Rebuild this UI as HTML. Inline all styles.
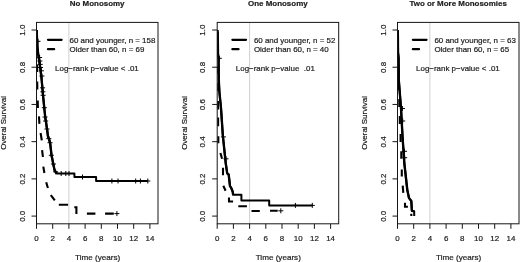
<!DOCTYPE html><html><head><meta charset="utf-8"><style>html,body{margin:0;padding:0;background:#fff}svg{display:block;will-change:transform}text{font-family:"Liberation Sans",sans-serif;fill:#1c1c1c;stroke:#1c1c1c;stroke-width:0.2px}</style></head><body>
<svg width="520" height="262" viewBox="0 0 520 262">
<rect width="520" height="262" fill="#fff"/>
<defs><filter id="bl" x="0" y="0" width="100%" height="100%" filterUnits="userSpaceOnUse" color-interpolation-filters="sRGB"><feGaussianBlur stdDeviation="0.32"/></filter></defs><g filter="url(#bl)">
<line x1="68.90" y1="22.40" x2="68.90" y2="223.80" stroke="#d0d0d0" stroke-width="1"/>
<clipPath id="c0"><rect x="36.50" y="22.40" width="121.50" height="201.40"/></clipPath><g clip-path="url(#c0)">
<polyline points="36.70,30.00 37.10,41.30 37.70,50.00 38.20,54.00 40.20,67.30 41.60,79.00 42.80,93.00 44.20,107.00 45.20,117.00 46.00,122.00 47.30,131.00 47.90,136.00 49.30,140.00 50.20,143.50 51.50,155.00 53.10,163.00 54.50,170.00 56.00,172.60 57.00,173.50 74.40,173.50 74.40,177.00 96.10,177.00 96.10,181.00 147.60,181.00" fill="none" stroke="#000" stroke-width="2.00" stroke-linejoin="round"/>
<polyline points="36.70,30.00 37.10,41.30 37.70,50.00 38.20,54.00 40.20,67.30 41.60,79.00 42.80,93.00 44.20,107.00 45.20,117.00 46.00,122.00 47.30,131.00 47.90,136.00 49.30,140.00 50.20,143.50 51.50,155.00 53.10,163.00 54.50,170.00 56.00,172.60 57.00,173.50" fill="none" stroke="#000" stroke-width="2.35" stroke-linejoin="round"/>
<polyline points="36.90,30.50 37.00,38.00" fill="none" stroke="#000" stroke-width="2.10" stroke-linejoin="miter"/>
<polyline points="37.00,47.50 37.10,55.00" fill="none" stroke="#000" stroke-width="2.10" stroke-linejoin="miter"/>
<polyline points="37.10,64.50 37.20,72.00" fill="none" stroke="#000" stroke-width="2.10" stroke-linejoin="miter"/>
<polyline points="37.20,81.50 37.30,89.50" fill="none" stroke="#000" stroke-width="2.10" stroke-linejoin="miter"/>
<polyline points="37.70,100.50 37.90,108.00" fill="none" stroke="#000" stroke-width="2.10" stroke-linejoin="miter"/>
<polyline points="39.00,116.40 39.40,123.90" fill="none" stroke="#000" stroke-width="2.10" stroke-linejoin="miter"/>
<polyline points="40.60,133.00 41.80,140.30" fill="none" stroke="#000" stroke-width="2.10" stroke-linejoin="miter"/>
<polyline points="42.10,150.20 42.90,157.00" fill="none" stroke="#000" stroke-width="2.10" stroke-linejoin="miter"/>
<polyline points="43.30,166.60 44.40,173.00" fill="none" stroke="#000" stroke-width="2.10" stroke-linejoin="miter"/>
<polyline points="46.20,182.20 47.90,188.00" fill="none" stroke="#000" stroke-width="2.10" stroke-linejoin="miter"/>
<polyline points="50.80,195.20 54.80,200.40" fill="none" stroke="#000" stroke-width="2.10" stroke-linejoin="miter"/>
<polyline points="58.80,204.80 68.10,204.80" fill="none" stroke="#000" stroke-width="2.10" stroke-linejoin="miter"/>
<polyline points="74.30,207.30 76.40,207.30 76.40,214.00" fill="none" stroke="#000" stroke-width="2.10" stroke-linejoin="miter"/>
<polyline points="86.90,213.60 95.40,213.60" fill="none" stroke="#000" stroke-width="2.10" stroke-linejoin="miter"/>
<polyline points="105.10,213.60 113.80,213.60" fill="none" stroke="#000" stroke-width="2.10" stroke-linejoin="miter"/>
<path d="M35.50 41.30H40.50M38.00 38.80V43.80" stroke="#000" stroke-width="1.0" fill="none"/>
<path d="M37.10 57.50H42.10M39.60 55.00V60.00" stroke="#000" stroke-width="1.0" fill="none"/>
<path d="M37.40 61.00H42.40M39.90 58.50V63.50" stroke="#000" stroke-width="1.0" fill="none"/>
<path d="M37.70 64.40H42.70M40.20 61.90V66.90" stroke="#000" stroke-width="1.0" fill="none"/>
<path d="M38.00 67.50H43.00M40.50 65.00V70.00" stroke="#000" stroke-width="1.0" fill="none"/>
<path d="M38.90 70.80H43.90M41.40 68.30V73.30" stroke="#000" stroke-width="1.0" fill="none"/>
<path d="M39.40 76.00H44.40M41.90 73.50V78.50" stroke="#000" stroke-width="1.0" fill="none"/>
<path d="M40.10 87.80H45.10M42.60 85.30V90.30" stroke="#000" stroke-width="1.0" fill="none"/>
<path d="M40.40 91.80H45.40M42.90 89.30V94.30" stroke="#000" stroke-width="1.0" fill="none"/>
<path d="M40.60 95.30H45.60M43.10 92.80V97.80" stroke="#000" stroke-width="1.0" fill="none"/>
<path d="M41.80 107.70H46.80M44.30 105.20V110.20" stroke="#000" stroke-width="1.0" fill="none"/>
<path d="M42.50 117.00H47.50M45.00 114.50V119.50" stroke="#000" stroke-width="1.0" fill="none"/>
<path d="M43.20 121.00H48.20M45.70 118.50V123.50" stroke="#000" stroke-width="1.0" fill="none"/>
<path d="M44.50 129.00H49.50M47.00 126.50V131.50" stroke="#000" stroke-width="1.0" fill="none"/>
<path d="M46.30 138.60H51.30M48.80 136.10V141.10" stroke="#000" stroke-width="1.0" fill="none"/>
<path d="M47.50 142.70H52.50M50.00 140.20V145.20" stroke="#000" stroke-width="1.0" fill="none"/>
<path d="M48.80 155.30H53.80M51.30 152.80V157.80" stroke="#000" stroke-width="1.0" fill="none"/>
<path d="M50.90 164.00H55.90M53.40 161.50V166.50" stroke="#000" stroke-width="1.0" fill="none"/>
<path d="M53.10 171.80H58.10M55.60 169.30V174.30" stroke="#000" stroke-width="1.0" fill="none"/>
<path d="M58.70 173.50H63.70M61.20 171.00V176.00" stroke="#000" stroke-width="1.0" fill="none"/>
<path d="M63.30 173.50H68.30M65.80 171.00V176.00" stroke="#000" stroke-width="1.0" fill="none"/>
<path d="M66.50 173.50H71.50M69.00 171.00V176.00" stroke="#000" stroke-width="1.0" fill="none"/>
<path d="M80.00 177.00H85.00M82.50 174.50V179.50" stroke="#000" stroke-width="1.0" fill="none"/>
<path d="M109.40 181.00H114.40M111.90 178.50V183.50" stroke="#000" stroke-width="1.0" fill="none"/>
<path d="M115.50 181.00H120.50M118.00 178.50V183.50" stroke="#000" stroke-width="1.0" fill="none"/>
<path d="M133.20 181.00H138.20M135.70 178.50V183.50" stroke="#000" stroke-width="1.0" fill="none"/>
<path d="M137.90 181.00H142.90M140.40 178.50V183.50" stroke="#000" stroke-width="1.0" fill="none"/>
<path d="M145.30 181.00H150.30M147.80 178.50V183.50" stroke="#000" stroke-width="1.0" fill="none"/>
<path d="M114.40 213.60H119.40M116.90 211.10V216.10" stroke="#000" stroke-width="1.0" fill="none"/>
</g>
<rect x="36.50" y="22.40" width="121.50" height="201.40" fill="none" stroke="#161616" stroke-width="1"/>
<line x1="31.50" y1="216.10" x2="36.50" y2="216.10" stroke="#161616" stroke-width="1"/>
<text transform="translate(24.60 216.30) rotate(-90)" text-anchor="middle" font-size="7.95">0.0</text>
<line x1="31.50" y1="178.88" x2="36.50" y2="178.88" stroke="#161616" stroke-width="1"/>
<text transform="translate(24.60 179.08) rotate(-90)" text-anchor="middle" font-size="7.95">0.2</text>
<line x1="31.50" y1="141.66" x2="36.50" y2="141.66" stroke="#161616" stroke-width="1"/>
<text transform="translate(24.60 141.86) rotate(-90)" text-anchor="middle" font-size="7.95">0.4</text>
<line x1="31.50" y1="104.44" x2="36.50" y2="104.44" stroke="#161616" stroke-width="1"/>
<text transform="translate(24.60 104.64) rotate(-90)" text-anchor="middle" font-size="7.95">0.6</text>
<line x1="31.50" y1="67.22" x2="36.50" y2="67.22" stroke="#161616" stroke-width="1"/>
<text transform="translate(24.60 67.42) rotate(-90)" text-anchor="middle" font-size="7.95">0.8</text>
<line x1="31.50" y1="30.00" x2="36.50" y2="30.00" stroke="#161616" stroke-width="1"/>
<text transform="translate(24.60 30.20) rotate(-90)" text-anchor="middle" font-size="7.95">1.0</text>
<line x1="36.50" y1="223.80" x2="36.50" y2="228.80" stroke="#161616" stroke-width="1"/>
<text x="36.50" y="240.80" text-anchor="middle" font-size="7.95">0</text>
<line x1="52.70" y1="223.80" x2="52.70" y2="228.80" stroke="#161616" stroke-width="1"/>
<text x="52.70" y="240.80" text-anchor="middle" font-size="7.95">2</text>
<line x1="68.90" y1="223.80" x2="68.90" y2="228.80" stroke="#161616" stroke-width="1"/>
<text x="68.90" y="240.80" text-anchor="middle" font-size="7.95">4</text>
<line x1="85.10" y1="223.80" x2="85.10" y2="228.80" stroke="#161616" stroke-width="1"/>
<text x="85.10" y="240.80" text-anchor="middle" font-size="7.95">6</text>
<line x1="101.30" y1="223.80" x2="101.30" y2="228.80" stroke="#161616" stroke-width="1"/>
<text x="101.30" y="240.80" text-anchor="middle" font-size="7.95">8</text>
<line x1="117.50" y1="223.80" x2="117.50" y2="228.80" stroke="#161616" stroke-width="1"/>
<text x="117.50" y="240.80" text-anchor="middle" font-size="7.95">10</text>
<line x1="133.70" y1="223.80" x2="133.70" y2="228.80" stroke="#161616" stroke-width="1"/>
<text x="133.70" y="240.80" text-anchor="middle" font-size="7.95">12</text>
<line x1="149.90" y1="223.80" x2="149.90" y2="228.80" stroke="#161616" stroke-width="1"/>
<text x="149.90" y="240.80" text-anchor="middle" font-size="7.95">14</text>
<text x="120.15" y="259.80" text-anchor="end" font-size="8.10">Time (years)</text>
<text transform="translate(5.50 122.90) rotate(-90)" text-anchor="middle" font-size="7.95">Overal Survival</text>
<text x="97.15" y="6.20" text-anchor="middle" font-size="7.95" font-weight="bold">No Monosomy</text>
<line x1="48.00" y1="39.80" x2="61.60" y2="39.80" stroke="#000" stroke-width="2.3" stroke-linecap="round"/>
<line x1="48.00" y1="49.20" x2="54.10" y2="49.20" stroke="#000" stroke-width="2.3" stroke-linecap="round"/>
<text x="69.50" y="42.50" font-size="7.95">60 and younger, n = 158</text>
<text x="69.50" y="52.40" font-size="7.95">Older than 60, n = 69</text>
<text x="55.10" y="70.50" font-size="7.95">Log−rank p−value < .01</text>
<line x1="249.60" y1="22.40" x2="249.60" y2="223.80" stroke="#d0d0d0" stroke-width="1"/>
<clipPath id="c1"><rect x="217.20" y="22.40" width="121.50" height="201.40"/></clipPath><g clip-path="url(#c1)">
<polyline points="217.40,30.00 217.80,36.00 218.00,54.00 218.60,58.30 218.80,80.00 219.40,92.00 221.00,108.00 222.80,135.00 225.70,163.00 227.20,173.30 228.70,174.60 230.00,186.00 231.50,188.50 232.80,192.00 233.10,194.80 241.40,194.80 241.40,200.40 269.20,200.40 269.20,205.40 312.30,205.40" fill="none" stroke="#000" stroke-width="2.00" stroke-linejoin="round"/>
<polyline points="217.40,30.00 217.80,36.00 218.00,54.00 218.60,58.30 218.80,80.00 219.40,92.00 221.00,108.00 222.80,135.00 225.70,163.00 227.20,173.30 228.70,174.60 230.00,186.00 231.50,188.50 232.80,192.00 233.10,194.80" fill="none" stroke="#000" stroke-width="2.35" stroke-linejoin="round"/>
<polyline points="217.60,32.00 217.60,40.00" fill="none" stroke="#000" stroke-width="2.10" stroke-linejoin="miter"/>
<polyline points="217.70,49.00 217.70,57.00" fill="none" stroke="#000" stroke-width="2.10" stroke-linejoin="miter"/>
<polyline points="217.90,66.00 217.90,74.00" fill="none" stroke="#000" stroke-width="2.10" stroke-linejoin="miter"/>
<polyline points="218.00,83.00 218.00,91.00" fill="none" stroke="#000" stroke-width="2.10" stroke-linejoin="miter"/>
<polyline points="218.00,101.00 218.10,109.50" fill="none" stroke="#000" stroke-width="2.10" stroke-linejoin="miter"/>
<polyline points="218.10,117.50 218.10,126.20" fill="none" stroke="#000" stroke-width="2.10" stroke-linejoin="miter"/>
<polyline points="218.30,136.30 218.30,143.20" fill="none" stroke="#000" stroke-width="2.10" stroke-linejoin="miter"/>
<polyline points="220.40,153.00 222.10,158.80" fill="none" stroke="#000" stroke-width="2.10" stroke-linejoin="miter"/>
<polyline points="223.00,167.80 223.00,175.30" fill="none" stroke="#000" stroke-width="2.10" stroke-linejoin="miter"/>
<polyline points="223.30,185.70 225.60,190.80" fill="none" stroke="#000" stroke-width="2.10" stroke-linejoin="miter"/>
<polyline points="229.00,197.50 229.00,201.50 233.10,201.50" fill="none" stroke="#000" stroke-width="2.10" stroke-linejoin="miter"/>
<polyline points="238.30,206.20 246.90,206.20" fill="none" stroke="#000" stroke-width="2.10" stroke-linejoin="miter"/>
<polyline points="251.50,211.00 259.80,211.00" fill="none" stroke="#000" stroke-width="2.10" stroke-linejoin="miter"/>
<polyline points="270.00,210.80 277.70,210.80" fill="none" stroke="#000" stroke-width="2.10" stroke-linejoin="miter"/>
<path d="M216.80 58.30H221.80M219.30 55.80V60.80" stroke="#000" stroke-width="1.0" fill="none"/>
<path d="M220.90 136.90H225.90M223.40 134.40V139.40" stroke="#000" stroke-width="1.0" fill="none"/>
<path d="M223.50 158.80H228.50M226.00 156.30V161.30" stroke="#000" stroke-width="1.0" fill="none"/>
<path d="M292.90 205.40H297.90M295.40 202.90V207.90" stroke="#000" stroke-width="1.0" fill="none"/>
<path d="M309.80 205.40H314.80M312.30 202.90V207.90" stroke="#000" stroke-width="1.0" fill="none"/>
<path d="M278.30 210.80H283.30M280.80 208.30V213.30" stroke="#000" stroke-width="1.0" fill="none"/>
</g>
<rect x="217.20" y="22.40" width="121.50" height="201.40" fill="none" stroke="#161616" stroke-width="1"/>
<line x1="212.20" y1="216.10" x2="217.20" y2="216.10" stroke="#161616" stroke-width="1"/>
<text transform="translate(205.30 216.30) rotate(-90)" text-anchor="middle" font-size="7.95">0.0</text>
<line x1="212.20" y1="178.88" x2="217.20" y2="178.88" stroke="#161616" stroke-width="1"/>
<text transform="translate(205.30 179.08) rotate(-90)" text-anchor="middle" font-size="7.95">0.2</text>
<line x1="212.20" y1="141.66" x2="217.20" y2="141.66" stroke="#161616" stroke-width="1"/>
<text transform="translate(205.30 141.86) rotate(-90)" text-anchor="middle" font-size="7.95">0.4</text>
<line x1="212.20" y1="104.44" x2="217.20" y2="104.44" stroke="#161616" stroke-width="1"/>
<text transform="translate(205.30 104.64) rotate(-90)" text-anchor="middle" font-size="7.95">0.6</text>
<line x1="212.20" y1="67.22" x2="217.20" y2="67.22" stroke="#161616" stroke-width="1"/>
<text transform="translate(205.30 67.42) rotate(-90)" text-anchor="middle" font-size="7.95">0.8</text>
<line x1="212.20" y1="30.00" x2="217.20" y2="30.00" stroke="#161616" stroke-width="1"/>
<text transform="translate(205.30 30.20) rotate(-90)" text-anchor="middle" font-size="7.95">1.0</text>
<line x1="217.20" y1="223.80" x2="217.20" y2="228.80" stroke="#161616" stroke-width="1"/>
<text x="217.20" y="240.80" text-anchor="middle" font-size="7.95">0</text>
<line x1="233.40" y1="223.80" x2="233.40" y2="228.80" stroke="#161616" stroke-width="1"/>
<text x="233.40" y="240.80" text-anchor="middle" font-size="7.95">2</text>
<line x1="249.60" y1="223.80" x2="249.60" y2="228.80" stroke="#161616" stroke-width="1"/>
<text x="249.60" y="240.80" text-anchor="middle" font-size="7.95">4</text>
<line x1="265.80" y1="223.80" x2="265.80" y2="228.80" stroke="#161616" stroke-width="1"/>
<text x="265.80" y="240.80" text-anchor="middle" font-size="7.95">6</text>
<line x1="282.00" y1="223.80" x2="282.00" y2="228.80" stroke="#161616" stroke-width="1"/>
<text x="282.00" y="240.80" text-anchor="middle" font-size="7.95">8</text>
<line x1="298.20" y1="223.80" x2="298.20" y2="228.80" stroke="#161616" stroke-width="1"/>
<text x="298.20" y="240.80" text-anchor="middle" font-size="7.95">10</text>
<line x1="314.40" y1="223.80" x2="314.40" y2="228.80" stroke="#161616" stroke-width="1"/>
<text x="314.40" y="240.80" text-anchor="middle" font-size="7.95">12</text>
<line x1="330.60" y1="223.80" x2="330.60" y2="228.80" stroke="#161616" stroke-width="1"/>
<text x="330.60" y="240.80" text-anchor="middle" font-size="7.95">14</text>
<text x="300.85" y="259.80" text-anchor="end" font-size="8.10">Time (years)</text>
<text transform="translate(186.90 122.90) rotate(-90)" text-anchor="middle" font-size="7.95">Overal Survival</text>
<text x="277.85" y="6.20" text-anchor="middle" font-size="7.95" font-weight="bold">One Monosomy</text>
<line x1="232.40" y1="39.80" x2="246.00" y2="39.80" stroke="#000" stroke-width="2.3" stroke-linecap="round"/>
<line x1="232.40" y1="49.20" x2="238.50" y2="49.20" stroke="#000" stroke-width="2.3" stroke-linecap="round"/>
<text x="253.90" y="42.50" font-size="7.95">60 and younger, n = 52</text>
<text x="253.90" y="52.40" font-size="7.95">Older than 60, n = 40</text>
<text x="235.80" y="70.50" font-size="7.95">Log−rank p−value  .01</text>
<line x1="429.90" y1="22.40" x2="429.90" y2="223.80" stroke="#d0d0d0" stroke-width="1"/>
<clipPath id="c2"><rect x="397.50" y="22.40" width="121.50" height="201.40"/></clipPath><g clip-path="url(#c2)">
<polyline points="397.70,30.00 397.90,36.00 398.00,52.00 398.60,58.00 398.80,80.00 401.00,108.00 402.50,136.00 404.30,163.00 407.30,190.00 409.00,198.00 411.30,201.00 411.90,210.80 414.20,211.30 414.20,216.00" fill="none" stroke="#000" stroke-width="2.00" stroke-linejoin="round"/>
<polyline points="397.70,30.00 397.90,36.00 398.00,52.00 398.60,58.00 398.80,80.00 401.00,108.00 402.50,136.00 404.30,163.00 407.30,190.00 409.00,198.00 411.30,201.00 411.90,210.80 414.20,211.30" fill="none" stroke="#000" stroke-width="2.35" stroke-linejoin="round"/>
<polyline points="397.90,31.00 397.90,39.00" fill="none" stroke="#000" stroke-width="2.10" stroke-linejoin="miter"/>
<polyline points="398.00,48.00 398.00,56.00" fill="none" stroke="#000" stroke-width="2.10" stroke-linejoin="miter"/>
<polyline points="398.50,65.00 398.50,73.00" fill="none" stroke="#000" stroke-width="2.10" stroke-linejoin="miter"/>
<polyline points="398.80,82.00 398.80,90.00" fill="none" stroke="#000" stroke-width="2.10" stroke-linejoin="miter"/>
<polyline points="399.30,99.00 399.30,107.00" fill="none" stroke="#000" stroke-width="2.10" stroke-linejoin="miter"/>
<polyline points="399.80,116.00 399.80,124.00" fill="none" stroke="#000" stroke-width="2.10" stroke-linejoin="miter"/>
<polyline points="400.60,134.00 400.60,142.00" fill="none" stroke="#000" stroke-width="2.10" stroke-linejoin="miter"/>
<polyline points="401.30,151.30 401.30,158.80" fill="none" stroke="#000" stroke-width="2.10" stroke-linejoin="miter"/>
<polyline points="401.80,169.50 401.80,176.40" fill="none" stroke="#000" stroke-width="2.10" stroke-linejoin="miter"/>
<polyline points="402.70,185.70 403.30,192.90" fill="none" stroke="#000" stroke-width="2.10" stroke-linejoin="miter"/>
<polyline points="405.00,202.70 405.00,206.70 407.90,206.70" fill="none" stroke="#000" stroke-width="2.10" stroke-linejoin="miter"/>
<polyline points="411.30,213.70 411.30,216.00" fill="none" stroke="#000" stroke-width="2.10" stroke-linejoin="miter"/>
<path d="M399.90 108.50H404.90M402.40 106.00V111.00" stroke="#000" stroke-width="1.0" fill="none"/>
<path d="M400.20 121.00H405.20M402.70 118.50V123.50" stroke="#000" stroke-width="1.0" fill="none"/>
<path d="M402.00 151.30H407.00M404.50 148.80V153.80" stroke="#000" stroke-width="1.0" fill="none"/>
<path d="M402.20 157.70H407.20M404.70 155.20V160.20" stroke="#000" stroke-width="1.0" fill="none"/>
</g>
<rect x="397.50" y="22.40" width="121.50" height="201.40" fill="none" stroke="#161616" stroke-width="1"/>
<line x1="392.50" y1="216.10" x2="397.50" y2="216.10" stroke="#161616" stroke-width="1"/>
<text transform="translate(385.60 216.30) rotate(-90)" text-anchor="middle" font-size="7.95">0.0</text>
<line x1="392.50" y1="178.88" x2="397.50" y2="178.88" stroke="#161616" stroke-width="1"/>
<text transform="translate(385.60 179.08) rotate(-90)" text-anchor="middle" font-size="7.95">0.2</text>
<line x1="392.50" y1="141.66" x2="397.50" y2="141.66" stroke="#161616" stroke-width="1"/>
<text transform="translate(385.60 141.86) rotate(-90)" text-anchor="middle" font-size="7.95">0.4</text>
<line x1="392.50" y1="104.44" x2="397.50" y2="104.44" stroke="#161616" stroke-width="1"/>
<text transform="translate(385.60 104.64) rotate(-90)" text-anchor="middle" font-size="7.95">0.6</text>
<line x1="392.50" y1="67.22" x2="397.50" y2="67.22" stroke="#161616" stroke-width="1"/>
<text transform="translate(385.60 67.42) rotate(-90)" text-anchor="middle" font-size="7.95">0.8</text>
<line x1="392.50" y1="30.00" x2="397.50" y2="30.00" stroke="#161616" stroke-width="1"/>
<text transform="translate(385.60 30.20) rotate(-90)" text-anchor="middle" font-size="7.95">1.0</text>
<line x1="397.50" y1="223.80" x2="397.50" y2="228.80" stroke="#161616" stroke-width="1"/>
<text x="397.50" y="240.80" text-anchor="middle" font-size="7.95">0</text>
<line x1="413.70" y1="223.80" x2="413.70" y2="228.80" stroke="#161616" stroke-width="1"/>
<text x="413.70" y="240.80" text-anchor="middle" font-size="7.95">2</text>
<line x1="429.90" y1="223.80" x2="429.90" y2="228.80" stroke="#161616" stroke-width="1"/>
<text x="429.90" y="240.80" text-anchor="middle" font-size="7.95">4</text>
<line x1="446.10" y1="223.80" x2="446.10" y2="228.80" stroke="#161616" stroke-width="1"/>
<text x="446.10" y="240.80" text-anchor="middle" font-size="7.95">6</text>
<line x1="462.30" y1="223.80" x2="462.30" y2="228.80" stroke="#161616" stroke-width="1"/>
<text x="462.30" y="240.80" text-anchor="middle" font-size="7.95">8</text>
<line x1="478.50" y1="223.80" x2="478.50" y2="228.80" stroke="#161616" stroke-width="1"/>
<text x="478.50" y="240.80" text-anchor="middle" font-size="7.95">10</text>
<line x1="494.70" y1="223.80" x2="494.70" y2="228.80" stroke="#161616" stroke-width="1"/>
<text x="494.70" y="240.80" text-anchor="middle" font-size="7.95">12</text>
<line x1="510.90" y1="223.80" x2="510.90" y2="228.80" stroke="#161616" stroke-width="1"/>
<text x="510.90" y="240.80" text-anchor="middle" font-size="7.95">14</text>
<text x="481.15" y="259.80" text-anchor="end" font-size="8.10">Time (years)</text>
<text transform="translate(366.50 122.90) rotate(-90)" text-anchor="middle" font-size="7.95">Overal Survival</text>
<text x="458.15" y="6.20" text-anchor="middle" font-size="7.95" font-weight="bold">Two or More Monosomies</text>
<line x1="412.90" y1="39.80" x2="426.50" y2="39.80" stroke="#000" stroke-width="2.3" stroke-linecap="round"/>
<line x1="412.90" y1="49.20" x2="419.00" y2="49.20" stroke="#000" stroke-width="2.3" stroke-linecap="round"/>
<text x="434.40" y="42.50" font-size="7.95">60 and younger, n = 63</text>
<text x="434.40" y="52.40" font-size="7.95">Older than 60, n = 65</text>
<text x="416.10" y="70.50" font-size="7.95">Log−rank p−value < .01</text>
</g></svg></body></html>
